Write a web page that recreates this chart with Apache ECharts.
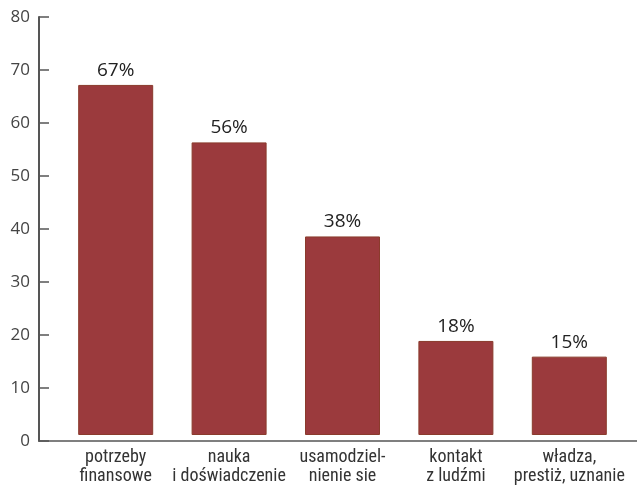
<!DOCTYPE html>
<html><head><meta charset="utf-8">
<script src="https://cdn.jsdelivr.net/npm/echarts@6/dist/echarts.min.js"></script>
<style>html,body{margin:0;padding:0;background:#fff}#c{width:637px;height:486px}</style>
</head><body><div id="c"></div>
<script>
const categories = ['potrzeby\nfinansowe', 'nauka\ni doświadczenie', 'usamodziel-\nnienie sie', 'kontakt\nz ludźmi', 'władza,\nprestiż, uznanie'];
const values = [67, 56, 38, 18, 15];
const yTicks = [0, 10, 20, 30, 40, 50, 60, 70, 80];

const chart = echarts.init(document.getElementById('c'));
const axisColor = '#555';
const condensed = '"Liberation Sans Narrow", "Roboto Condensed", "Noto Sans", sans-serif';
chart.setOption({
  animation: false,
  grid: [
    {left: 39, right: 0, top: 17, bottom: 45},
    {left: 59, width: 567, top: 17, bottom: 45}
  ],
  xAxis: [
    {gridIndex: 0, type: 'category', data: [''], axisLine: {lineStyle: {color: axisColor, width: 1.5}}, axisTick: {show: false}, axisLabel: {show: false}},
    {gridIndex: 1, type: 'category', data: categories, axisLine: {show: false}, axisTick: {show: false},
     axisLabel: {color: '#333', fontSize: 18, fontFamily: condensed, lineHeight: 19, margin: 13, interval: 0}}
  ],
  yAxis: [
    {gridIndex: 0, type: 'value', min: yTicks[0], max: yTicks[yTicks.length - 1], interval: 10,
     axisLine: {show: true, lineStyle: {color: axisColor, width: 2}},
     axisTick: {show: true, inside: true, length: 10, lineStyle: {color: axisColor, width: 1.5}},
     axisLabel: {color: '#444', fontSize: 17, fontFamily: '"Open Sans", sans-serif', margin: 9},
     splitLine: {show: false}},
    {gridIndex: 1, type: 'value', min: yTicks[0], max: yTicks[yTicks.length - 1], show: false, splitLine: {show: false}}
  ],
  series: [{
    type: 'bar', xAxisIndex: 1, yAxisIndex: 1, data: values, barWidth: 75,
    itemStyle: {color: '#9b3a3d', borderColor: '#8a3b2c', borderWidth: 1},
    label: {show: true, position: 'top', distance: 5, formatter: '{c}%', color: '#222', fontSize: 19, fontFamily: '"Open Sans", sans-serif'}
  }]
});
</script></body></html>
